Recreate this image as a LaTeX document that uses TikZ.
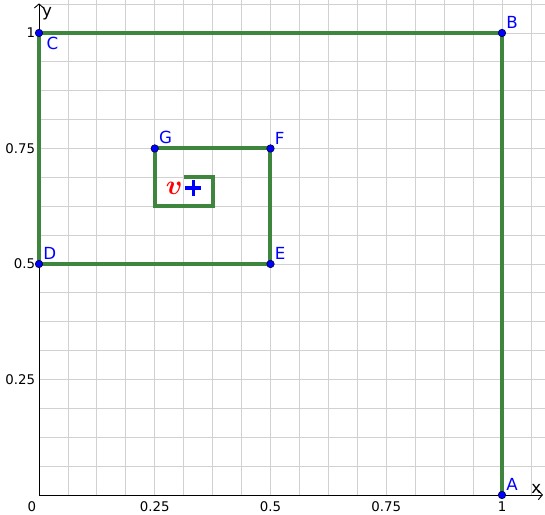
\documentclass[tikz,border=0pt]{standalone}
\usepackage{amsmath}
\usepackage{fontspec}
\setmainfont{DejaVu Sans}
\usetikzlibrary{arrows.meta}

\definecolor{ggbgreen}{RGB}{62,134,62}
\definecolor{ggbblue}{RGB}{0,0,255}
\tikzset{
  spiral/.style = {draw = ggbgreen, line width = 3pt},
  pt/.style = {fill = ggbblue, draw = black!70!blue, line width = 0.5pt},
  ptlabel/.style = {text = ggbblue, font = \fontsize{12.5}{14}\selectfont, inner sep = 3pt},
  ticklabel/.style = {font = \fontsize{10}{12}\selectfont, inner sep = 2pt}
}

\begin{document}
\begin{tikzpicture}[x = 347.25pt, y = 346.5pt]
		\useasboundingbox (-0.0842,-0.0433) rectangle (1.0929,1.0714);
		% grid, steps of 1/16
		\foreach \i in {1,...,17} {
			\draw[black!18, line width = 0.6pt] (\i/16,0) -- (\i/16,1.0714);
			\draw[black!18, line width = 0.6pt] (0,\i/16) -- (1.0929,\i/16);
		}
		% axes
		\draw[-{Straight Barb[length=3pt,width=7pt]}, line width = 0.7pt] (0,0) -- (1.0885,0) node[anchor = south east, inner sep = 1pt, font = \fontsize{12.5}{14}\selectfont] (xl) {x};
		\draw[-{Straight Barb[length=3pt,width=7pt]}, line width = 0.7pt] (0,0) -- (0,1.064) node[anchor = north west, inner sep = 1pt, xshift = 1pt, yshift = -2pt, font = \fontsize{12.5}{14}\selectfont] (yl) {y};
		\node[ticklabel, anchor = north east] at (0,-0.008) {0};
		\foreach \t in {0.25,0.5,0.75,1} {
			\node[ticklabel, anchor = north] at (\t,-0.008) {\t};
			\node[ticklabel, anchor = east] at (-0.002,\t) {\t};
		}
		% points of the path
		\coordinate (A) at (1,0);
		\coordinate (B) at (1,1);
		\coordinate (C) at (0,1);
		\coordinate (D) at (0,0.5);
		\coordinate (E) at (0.5,0.5);
		\coordinate (F) at (0.5,0.75);
		\coordinate (G) at (0.25,0.75);
		\coordinate (H) at (0.25,0.625);
		\coordinate (I) at (0.375,0.625);
		\coordinate (J) at (0.375,0.6875);
		\coordinate (K) at (0.3125,0.6875);
		\draw[spiral] (A) -- (B) -- (C) -- (D) -- (E) -- (F) -- (G) -- (H) -- (I) -- (J) -- (K);
		\foreach \p in {A,B,C,D,E,F,G}
			\fill[pt] (\p) circle (2.8pt);
		\foreach \p/\pos in {A/south west, B/south west, D/south west, E/south west, F/south west, G/south west}
			\node[ptlabel, anchor = \pos] at (\p) {\p};
		\node[ptlabel, anchor = north west, xshift = 2.5pt] at (C) {C};
		% limit point
		\coordinate (v) at (0.3337,0.664);
		\draw[ggbblue, line width = 2.6pt] ([xshift = -6pt]v) -- ([xshift = 6pt]v) ([yshift = -6pt]v) -- ([yshift = 6pt]v);
		\node[text = red, anchor = east, inner sep = 0pt, font = \fontsize{20}{22}\selectfont] (vl) at ([xshift = -8pt]v) {$\boldsymbol{v}$};
	\end{tikzpicture}
\end{document}
